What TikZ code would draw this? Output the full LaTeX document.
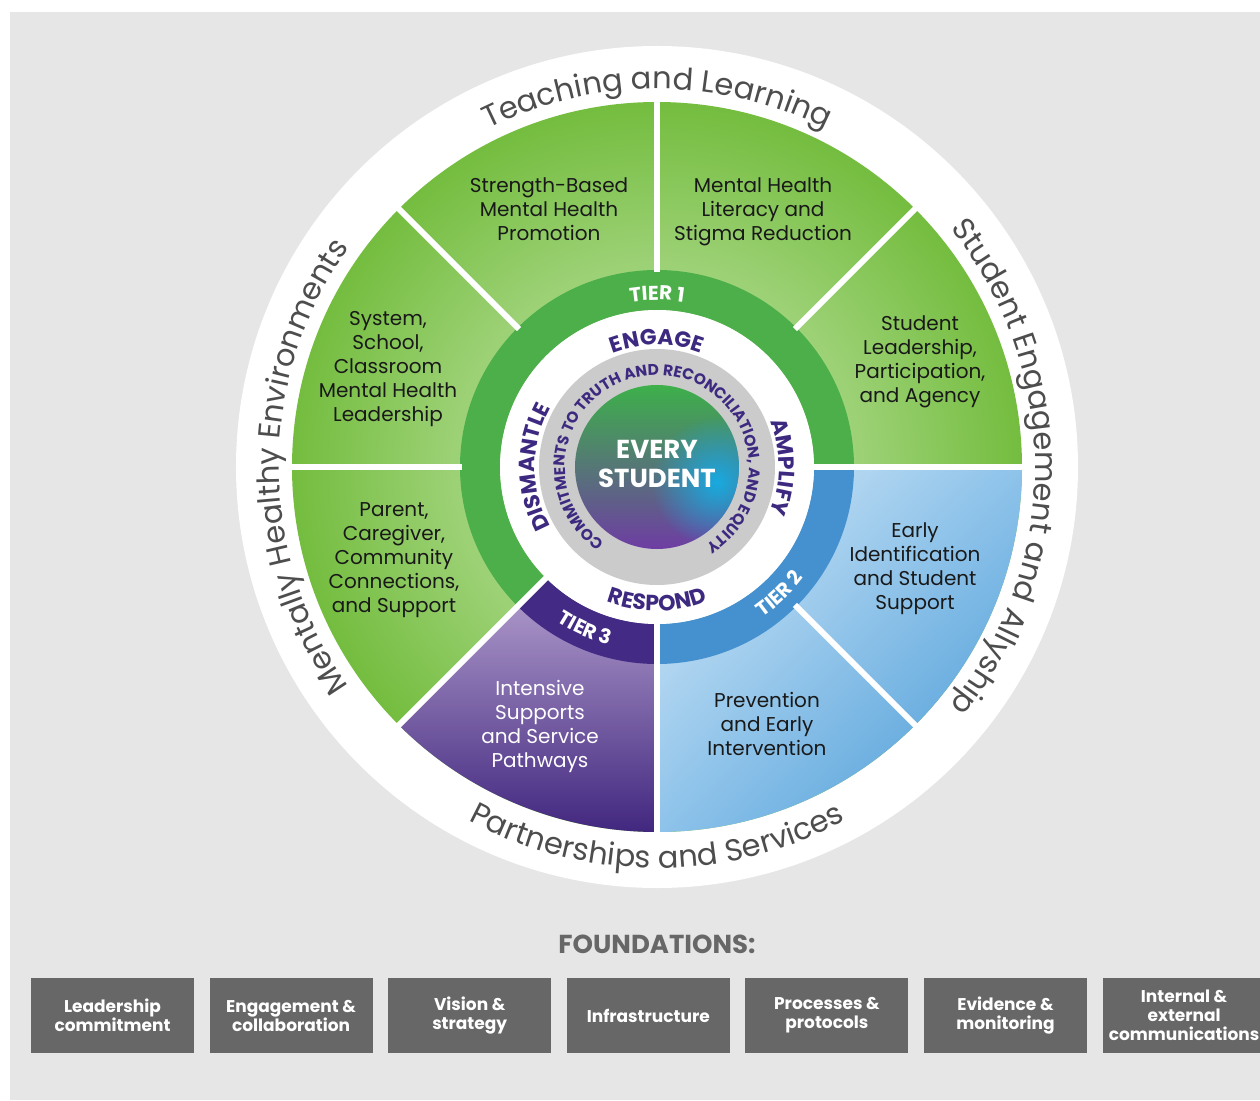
\documentclass[tikz,border=0pt]{standalone}
\usepackage{fontspec}
\setmainfont{Poppins}
\usetikzlibrary{decorations.text,shadings,fadings}
\definecolor{PageClr}{HTML}{E6E6E6}
\definecolor{LeafPaleClr}{HTML}{CFEABA}
\definecolor{LeafDeepClr}{HTML}{74BD3F}
\definecolor{SkyPaleClr}{HTML}{DCEDF9}
\definecolor{SkyMidClr}{HTML}{8EC3EA}
\definecolor{SkyDeepClr}{HTML}{3F95D5}
\definecolor{PlumPaleClr}{HTML}{A893C6}
\definecolor{PlumDeepClr}{HTML}{42277F}
\definecolor{TierOneClr}{HTML}{4CAF4A}
\definecolor{TierTwoClr}{HTML}{4591CF}
\definecolor{TierThreeClr}{HTML}{432A85}
\definecolor{WordClr}{HTML}{3D2A80}
\definecolor{CommitClr}{HTML}{CBCBCB}
\definecolor{BandTextClr}{HTML}{4D4D4D}
\definecolor{BoxClr}{HTML}{666766}
\definecolor{CoreGreenClr}{HTML}{3DB04A}
\definecolor{CoreOliveClr}{HTML}{4A8A4C}
\definecolor{CorePurpleClr}{HTML}{6E3DA3}
\definecolor{CoreCyanClr}{HTML}{18AAE0}

\tikzfading[name=blobfade,inner color=transparent!0,outer color=transparent!100]

\newcommand\bandfont{\fontsize{30.5}{30.5}\selectfont\color{BandTextClr}}
\newcommand\wordfont{\bfseries\fontsize{22}{22}\selectfont\color{WordClr}}
\newcommand\tierfont{\bfseries\fontsize{20}{20}\selectfont\color{white}}
\newcommand\commitfont{\bfseries\fontsize{15.5}{15.5}\selectfont\color{WordClr}}

\begin{document}
\begin{tikzpicture}[x=1pt,y=1pt,
  spoke/.style={white,line width=6pt},
  sectorlabel/.style={align=center,text=black!90,font=\fontsize{20}{24}\selectfont},
  foundbox/.style={fill=BoxClr,minimum width=163pt,minimum height=75pt,inner sep=0pt,
    align=center,text=white,font=\bfseries\fontsize{17}{19}\selectfont}]

\useasboundingbox (-657,467) rectangle (603,-633);
\fill[PageClr] (-647,455) rectangle (603,-633);
\fill[white] (0,0) circle (421);

% eight sectors
\shade[inner color=LeafPaleClr,outer color=LeafDeepClr] (0,0) circle (365);
\begin{scope}
  \clip (0,0) -- (-90:365) arc[start angle=-90,end angle=0,radius=365] -- cycle;
  \shade[upper left=SkyPaleClr,upper right=SkyMidClr,lower left=SkyMidClr,lower right=SkyDeepClr]
    (0,0) rectangle (365,-365);
\end{scope}
\begin{scope}
  \clip (0,0) -- (225:365) arc[start angle=225,end angle=270,radius=365] -- cycle;
  \shade[top color=PlumPaleClr,bottom color=PlumDeepClr] (-260,-140) rectangle (0,-365);
\end{scope}

% tier ring
\fill[TierOneClr] (0:197) arc[start angle=0,end angle=225,radius=197]
  -- (225:157) arc[start angle=225,end angle=0,radius=157] -- cycle;
\fill[TierThreeClr] (225:197) arc[start angle=225,end angle=270,radius=197]
  -- (270:157) arc[start angle=270,end angle=225,radius=157] -- cycle;
\fill[TierTwoClr] (270:197) arc[start angle=270,end angle=360,radius=197]
  -- (0:157) arc[start angle=360,end angle=270,radius=157] -- cycle;

\foreach \a/\r in {0/150,45/195,90/195,135/195,180/195,225/150,270/150,315/195}
  \draw[spoke] (\a:\r) -- (\a:366);

% hub
\fill[white] (0,0) circle (157);
\fill[CommitClr] (0,0) circle (118);
\begin{scope}
  \clip (0,0) circle (82);
  \shade[top color=CoreGreenClr,middle color=CoreOliveClr,bottom color=CorePurpleClr] (-82,82) rectangle (82,-82);
  \fill[CoreCyanClr,path fading=blobfade] (60,-15) circle (66);
\end{scope}
\node[align=center,text=white,font=\bfseries\fontsize{26}{29}\selectfont] (core) at (0,3) {EVERY\\STUDENT};

% curved words
\path[decorate,decoration={text along path,text align=center,text={|\bandfont|Teaching and Learning}}]
  (150:378) arc[start angle=150,end angle=30,radius=378];
\path[decorate,decoration={text along path,text align=center,text={|\bandfont|Student Engagement and Allyship}}]
  (60:378) arc[start angle=60,end angle=-60,radius=378];
\path[decorate,decoration={text along path,text align=center,text={|\bandfont|Mentally Healthy Environments}}]
  (240:378) arc[start angle=240,end angle=120,radius=378];
\path[decorate,decoration={text along path,text align=center,text={|\bandfont|Partnerships and Services}}]
  (210:401) arc[start angle=210,end angle=330,radius=401];

\path[decorate,decoration={text along path,text align=center,text={|\wordfont|ENGAGE}}]
  (150:122) arc[start angle=150,end angle=30,radius=122];
\path[decorate,decoration={text along path,text align=center,text={|\wordfont|AMPLIFY}}]
  (50:122) arc[start angle=50,end angle=-50,radius=122];
\path[decorate,decoration={text along path,text align=center,text={|\wordfont|DISMANTLE}}]
  (230:122) arc[start angle=230,end angle=130,radius=122];
\path[decorate,decoration={text along path,text align=center,text={|\wordfont|RESPOND}}]
  (220:144) arc[start angle=220,end angle=320,radius=144];

\path[decorate,decoration={text along path,text align=center,text={|\tierfont|TIER 1}}]
  (130:167) arc[start angle=130,end angle=50,radius=167];
\path[decorate,decoration={text along path,text align=center,text={|\tierfont|TIER 2}}]
  (-86:184) arc[start angle=-86,end angle=-6,radius=184];
\path[decorate,decoration={text along path,text align=center,text={|\tierfont|TIER 3}}]
  (206:184) arc[start angle=206,end angle=286,radius=184];

\path[decorate,decoration={text along path,text align=center,
    text={|\commitfont|COMMITMENTS TO TRUTH AND RECONCILIATION, AND EQUITY}}]
  (240:92) arc[start angle=240,end angle=-63,radius=92];

% sector labels
\node[sectorlabel] (strength) at (-108,258) {Strength-Based\\Mental Health\\Promotion};
\node[sectorlabel] (literacy) at (106,255) {Mental Health\\Literacy and\\Stigma Reduction};
\node[sectorlabel] (agency) at (263,105) {Student\\Leadership,\\Participation,\\and Agency};
\node[sectorlabel] (system) at (-269,98) {System,\\School,\\Classroom\\Mental Health\\Leadership};
\node[sectorlabel] (parent) at (-263,-93) {Parent,\\Caregiver,\\Community\\Connections,\\and Support};
\node[sectorlabel,text=white] (intensive) at (-117,-259) {Intensive\\Supports\\and Service\\Pathways};
\node[sectorlabel] (prevention) at (110,-257) {Prevention\\and Early\\Intervention};
\node[sectorlabel] (early) at (258,-102) {Early\\Identification\\and Student\\Support};

% foundations
\node[text=BoxClr,font=\bfseries\fontsize{26}{26}\selectfont] (found) at (0,-477) {FOUNDATIONS:};
\foreach \t [count=\i] in {Leadership\\commitment,Engagement \&\\collaboration,Vision \&\\strategy,
    Infrastructure,Processes \&\\protocols,Evidence \&\\monitoring,Internal \&\\external\\communications}
  \node[foundbox] (found\i) at ({-544.5+178.6*(\i-1)},-548.5) {\t};

\end{tikzpicture}
\end{document}
